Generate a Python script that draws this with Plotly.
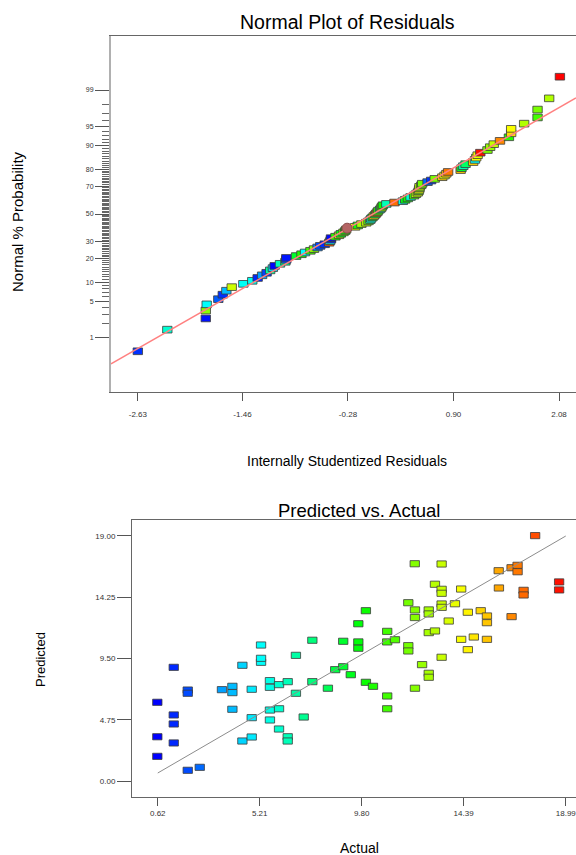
import plotly.graph_objects as go
from statistics import NormalDist

# ---------------- Normal plot of residuals (top) ----------------
residuals = [-2.63, -2.30, -1.87, -1.87, -1.86, -1.73, -1.68, -1.64, -1.58, -1.45,
             -1.35, -1.29, -1.24, -1.19, -1.15, -1.12, -1.10, -1.04, -0.98, -0.97,
             -0.97, -0.86, -0.80, -0.76, -0.70, -0.66, -0.62, -0.59, -0.54, -0.49,
             -0.48, -0.47, -0.47, -0.42, -0.38, -0.36, -0.33, -0.31, -0.30,
             -0.20, -0.17, -0.13, -0.075, -0.05, -0.03, -0.02, -0.005, 0.01, 0.025,
             0.037, 0.05, 0.06, 0.08, 0.093, 0.10, 0.111, 0.149, 0.24, 0.334,
             0.36, 0.39, 0.42, 0.46, 0.48, 0.50, 0.51, 0.515, 0.52, 0.52,
             0.54, 0.55, 0.61, 0.65, 0.69, 0.775, 0.80, 0.82, 0.84, 0.98,
             0.99, 1.01, 1.035, 1.12, 1.14, 1.154, 1.17, 1.20, 1.28, 1.31,
             1.35, 1.42, 1.52, 1.545, 1.545, 1.69, 1.84, 1.84, 1.97, 2.09]
normal_prob = [0.5, 1.5, 2.5, 3.5, 4.5, 5.5, 6.5, 7.5, 8.5, 9.5,
               10.5, 11.5, 12.5, 13.5, 14.5, 15.5, 16.5, 17.5, 18.5, 19.5,
               20.5, 21.5, 22.5, 23.5, 24.5, 25.5, 26.5, 27.5, 28.5, 29.5,
               30.5, 31.5, 32.5, 33.5, 34.5, 35.5, 36.5, 37.5, 38.5,
               40.5, 41.5, 42.5, 43.5, 44.5, 45.5, 46.5, 47.5, 48.5, 49.5,
               50.5, 51.5, 52.5, 53.5, 54.5, 55.5, 56.5, 57.5, 58.5, 59.5,
               60.5, 61.5, 62.5, 63.5, 64.5, 65.5, 66.5, 67.5, 68.5, 69.5,
               70.5, 71.5, 72.5, 73.5, 74.5, 75.5, 76.5, 77.5, 78.5, 79.5,
               80.5, 81.5, 82.5, 83.5, 84.5, 85.5, 86.5, 87.5, 88.5, 89.5,
               90.5, 91.5, 92.5, 93.5, 94.5, 95.5, 96.5, 97.5, 98.5, 99.5]
run_response = [1.5, 6.0, 0.9, 12.3, 5.3, 2.3, 1.5, 4.0, 13.5, 5.4,
                5.5, 1.3, 3.5, 1.8, 7.0, 4.5, 0.7, 6.5, 7.2, 2.0,
                1.0, 9.0, 10.3, 5.3, 11.0, 12.3, 3.0, 1.9, 1.4, 17.3,
                5.5, 1.6, 0.8, 10.5, 13.2, 9.5, 12.0, 10.0, 13.0,
                14.3, 10.2, 12.8, 13.3, 11.5, 6.5, 5.8, 10.0, 15.0, 9.0,
                16.8, 11.0, 10.5, 6.0, 12.5, 11.0, 10.0, 6.5, 17.0, 5.5,
                9.5, 10.0, 6.0, 11.0, 13.0, 13.3, 12.0, 14.0, 12.5, 13.2,
                12.0, 11.8, 2.5, 1.5, 12.0, 15.2, 14.0, 15.5, 16.8, 15.4,
                9.0, 6.5, 8.0, 15.2, 5.3, 14.3, 14.0, 18.7, 12.0, 12.5,
                13.3, 16.5, 10.5, 15.0, 14.3, 13.0, 11.0, 12.0, 13.0, 19.0]
highlight_residual = [-0.29]
highlight_prob = [39.5]
fit_residual_ends = [-2.93, 2.27]
fit_slope = 0.96
prob_ticks = [1, 5, 10, 20, 30, 50, 70, 80, 90, 95, 99]
prob_minor = [p for p in range(2, 99) if p not in prob_ticks]
resid_ticks = [-2.63, -1.46, -0.28, 0.90, 2.08]

# ---------------- Predicted vs actual (bottom) ----------------
actual = [1.34, 0.60, 1.97, 1.97, 1.34, 1.34, 0.60, 1.34, 0.60, 1.97,
          2.51, 3.51, 3.98, 3.98, 4.85, 4.43, 5.27, 5.27, 5.27, 3.98,
          4.85, 4.43, 4.85, 5.67, 5.67, 6.08, 6.47, 6.84, 7.58, 8.28,
          8.61, 5.67, 6.08, 5.67, 6.08, 6.47, 6.47, 7.19, 6.84, 7.58,
          8.97, 8.97, 9.31, 9.65, 9.65, 9.65, 9.99, 9.99, 10.31, 10.95,
          10.95, 10.95, 10.95, 11.30, 11.90, 11.90, 11.90, 12.19, 12.20, 12.20,
          12.20, 12.52, 12.82, 12.82, 12.82, 12.82, 12.82, 13.10, 13.10, 13.40,
          13.40, 13.40, 13.40, 13.40, 13.40, 13.72, 14.00, 14.28, 14.28, 14.58,
          14.58, 14.85, 15.16, 15.44, 15.44, 15.44, 15.97, 15.98, 16.55, 16.55,
          16.82, 16.82, 17.09, 17.09, 17.61, 18.69, 18.69]
predicted = [8.81, 6.10, 7.05, 6.80, 5.12, 4.42, 3.43, 2.95, 1.91, 0.83,
             1.06, 7.08, 7.34, 6.85, 7.11, 8.97, 9.20, 9.51, 10.54, 5.56,
             4.91, 3.10, 3.41, 7.78, 7.26, 7.47, 7.70, 6.80, 7.70, 7.19,
             8.63, 5.50, 5.60, 4.73, 4.03, 3.43, 3.10, 4.96, 9.74, 10.91,
             10.83, 8.86, 8.24, 12.19, 10.78, 10.29, 13.20, 7.65, 7.34, 11.60,
             10.78, 6.59, 5.60, 10.95, 13.82, 10.49, 10.08, 16.84, 13.26, 12.67,
             7.19, 9.02, 13.26, 12.95, 11.50, 8.35, 8.04, 15.25, 11.63, 16.82,
             14.86, 14.55, 13.72, 13.46, 9.59, 12.40, 13.74, 14.88, 10.98, 13.08,
             10.18, 11.16, 13.20, 12.79, 12.27, 10.98, 16.30, 14.96, 16.53, 12.74,
             16.72, 16.22, 14.78, 14.42, 19.02, 15.43, 14.81]
actual_ticks = [0.62, 5.21, 9.80, 14.39, 18.99]
pred_ticks = [0.00, 4.75, 9.50, 14.25, 19.00]

# ---------------- build ----------------
nd = NormalDist()
def probit(p):
    return nd.inv_cdf(p / 100.0)

W, H = 576, 855
def px(x):
    return x / W
def py(y):
    return 1 - y / H

cscale = [[0, '#0000ff'], [0.25, '#00ffff'], [0.5, '#00ff00'], [0.75, '#ffff00'], [1, '#ff0000']]
cmin, cmax = min(actual_ticks), max(actual_ticks)

fig = go.Figure()

# fitted normal line
fig.add_trace(go.Scatter(x=fit_residual_ends, y=[fit_slope * r for r in fit_residual_ends],
                         mode='lines', line=dict(color='#ff8080', width=1.5),
                         xaxis='x', yaxis='y', hoverinfo='skip'))

hz = 0.125
fig.add_trace(go.Bar(x=residuals, y=[hz] * len(residuals),
                     base=[probit(p) - hz / 2 for p in normal_prob],
                     width=0.105, xaxis='x', yaxis='y',
                     marker=dict(color=run_response, colorscale=cscale, cmin=cmin, cmax=cmax,
                                 line=dict(color='rgba(60,60,60,0.8)', width=1))))
fig.add_trace(go.Scatter(x=highlight_residual, y=[probit(p) for p in highlight_prob],
                         mode='markers', xaxis='x', yaxis='y',
                         marker=dict(symbol='circle', size=10, color='#b46464',
                                     line=dict(color='#8a4a4a', width=1))))

hp = 0.48
fig.add_trace(go.Bar(x=actual, y=[hp] * len(actual),
                     base=[v - hp / 2 for v in predicted],
                     width=0.42, xaxis='x2', yaxis='y2',
                     marker=dict(color=actual, colorscale=cscale, cmin=cmin, cmax=cmax,
                                 line=dict(color='rgba(60,60,60,0.8)', width=1))))
fig.add_trace(go.Scatter(x=[actual_ticks[0], actual_ticks[-1]], y=[actual_ticks[0], actual_ticks[-1]],
                         mode='lines', line=dict(color='#8c8c8c', width=1),
                         xaxis='x2', yaxis='y2', hoverinfo='skip'))

tickfont = dict(family='Liberation Sans Narrow, Liberation Sans, Arial', size=8, color='#333333')

fig.update_layout(
    width=W, height=H, margin=dict(l=0, r=0, t=0, b=0),
    paper_bgcolor='white', plot_bgcolor='white', showlegend=False,
    barmode='overlay',
    xaxis=dict(domain=[px(111), 1], range=[-2.93, 2.27], anchor='y',
               tickvals=resid_ticks, ticktext=['%.2f' % v for v in resid_ticks],
               ticks='outside', ticklen=8, tickcolor='#555555', tickwidth=1,
               showline=True, linecolor='#666666', linewidth=1, mirror=True,
               showgrid=False, zeroline=False, tickfont=tickfont, ticklabelstandoff=6,
               ticklabeloverflow='allow'),
    yaxis=dict(domain=[py(392), py(36)], range=[-3.34, 3.34], anchor='x',
               tickvals=[probit(p) for p in prob_ticks], ticktext=[str(p) for p in prob_ticks],
               ticks='outside', ticklen=14, tickcolor='#555555', tickwidth=1,
               minor=dict(tickvals=[probit(p) for p in prob_minor], ticks='outside',
                          ticklen=7, tickcolor='#666666', tickwidth=1, showgrid=False),
               showline=True, linecolor='#b0b0b0', linewidth=2,
               showgrid=False, zeroline=False, tickfont=dict(tickfont, size=7)),
    xaxis2=dict(domain=[px(132), 1], range=[-0.54, 19.45], anchor='y2',
                tickvals=actual_ticks, ticktext=['%.2f' % v for v in actual_ticks],
                ticks='outside', ticklen=8, tickcolor='#555555', tickwidth=1,
                showline=True, linecolor='#666666', linewidth=1, mirror=True,
                showgrid=False, zeroline=False, tickfont=tickfont, ticklabelstandoff=0,
                ticklabeloverflow='allow'),
    yaxis2=dict(domain=[py(797), py(520)], range=[-1.24, 20.23], anchor='x2',
                tickvals=pred_ticks, ticktext=['%.2f' % v for v in pred_ticks],
                ticks='outside', ticklen=14, tickcolor='#555555', tickwidth=1,
                showline=True, linecolor='#666666', linewidth=1,
                showgrid=False, zeroline=False, tickfont=tickfont),
)

tfam = 'Liberation Sans, Arial'
def ann(text, x, y, size, angle=0):
    fig.add_annotation(text=text, x=px(x), y=py(y), xref='paper', yref='paper',
                       xanchor='center', yanchor='middle', showarrow=False, textangle=angle,
                       font=dict(family=tfam, size=size, color='black'))

ann('Normal Plot of Residuals', 347, 22, 19.5)
ann('Internally Studentized Residuals', 347, 461, 14)
ann('Normal % Probability', 18, 222, 15, -90)
ann('Predicted vs. Actual', 359, 510, 18.5)
ann('Actual', 359, 848, 14)
ann('Predicted', 40, 660, 13, -90)

fig.write_html('out.html', config={'displayModeBar': False},
               post_script="document.body.style.margin='0';document.body.style.padding='0';"
                           "document.body.style.overflow='hidden';")
